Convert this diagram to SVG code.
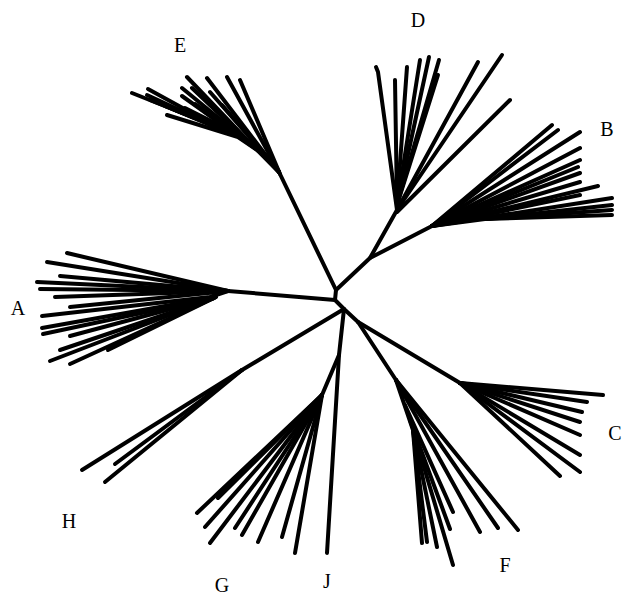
<svg xmlns="http://www.w3.org/2000/svg" width="630" height="597" viewBox="0 0 630 597">
<style>
.b{fill:none;stroke:#000;stroke-width:4;stroke-linecap:round;stroke-linejoin:round}
.l{font-family:"Liberation Serif","Times New Roman",serif;font-size:20px;fill:#000;text-anchor:middle}
</style>
<rect width="630" height="597" fill="#fff"/>
<g id="connectors" class="b">
<polyline points="279,172 336,290 335,300 344,309 358,322"/>
<polyline points="336,290 370,258 397,210"/>
<line x1="370" y1="258" x2="432" y2="226"/>
<line x1="335" y1="300" x2="228" y2="291"/>
<line x1="344" y1="309" x2="242" y2="370"/>
<polyline points="344,309 339,355 322,395"/>
<line x1="358" y1="322" x2="460" y2="383"/>
<line x1="358" y1="322" x2="396" y2="380"/>
</g>
<g id="E" class="b">
<polyline points="132,93 210,124 240,137 262,153 279,172"/>
<polyline points="148,89 210,123"/>
<polyline points="147,95 210,124"/>
<polyline points="150,100 212,125"/>
<polyline points="165,106 215,127"/>
<polyline points="167,115 238,137 260,152 279,172"/>
<polyline points="175,110 240,136"/>
<polyline points="185,108 245,138"/>
<polyline points="195,104 250,142"/>
<polyline points="205,112 252,145"/>
<polyline points="182,88 255,148 279,172"/>
<polyline points="182,96 255,148"/>
<polyline points="187,77 255,148"/>
<polyline points="192,88 255,148"/>
<polyline points="207,78 268,158 279,172"/>
<polyline points="210,92 268,158"/>
<polyline points="222,105 268,158"/>
<line x1="227" y1="77" x2="279" y2="172"/>
<line x1="240" y1="80" x2="280" y2="174"/>
</g>
<g id="D" class="b">
<polyline points="376,67 378,72 397,210"/>
<line x1="395" y1="80" x2="397" y2="205"/>
<line x1="407" y1="67" x2="397" y2="205"/>
<line x1="420" y1="60" x2="397" y2="205"/>
<line x1="429" y1="57" x2="397" y2="205"/>
<line x1="439" y1="60" x2="397" y2="205"/>
<line x1="438" y1="75" x2="397" y2="205"/>
<line x1="478" y1="62" x2="397" y2="210"/>
<line x1="502" y1="55" x2="397" y2="210"/>
<line x1="510" y1="100" x2="397" y2="212"/>
</g>
<g id="B" class="b">
<line x1="552" y1="125" x2="432" y2="226"/>
<line x1="558" y1="130" x2="432" y2="226"/>
<line x1="580" y1="132" x2="432" y2="226"/>
<line x1="580" y1="148" x2="432" y2="226"/>
<line x1="580" y1="160" x2="432" y2="226"/>
<line x1="578" y1="167" x2="432" y2="226"/>
<line x1="580" y1="173" x2="432" y2="226"/>
<line x1="580" y1="182" x2="432" y2="226"/>
<line x1="598" y1="186" x2="432" y2="226"/>
<line x1="580" y1="195" x2="432" y2="226"/>
<line x1="612" y1="198" x2="432" y2="226"/>
<polyline points="612,205 485,219 432,226"/>
<polyline points="612,210 485,219"/>
<polyline points="612,215 485,219"/>
</g>
<g id="A" class="b">
<line x1="67" y1="253" x2="228" y2="291"/>
<line x1="47" y1="262" x2="228" y2="291"/>
<line x1="60" y1="276" x2="228" y2="291"/>
<line x1="37" y1="282" x2="228" y2="291"/>
<line x1="40" y1="289" x2="228" y2="291"/>
<line x1="55" y1="297" x2="228" y2="291"/>
<line x1="70" y1="307" x2="228" y2="291"/>
<polyline points="42,316 210,297 228,291"/>
<polyline points="42,328 210,298"/>
<polyline points="43,334 212,298"/>
<polyline points="70,336 212,298"/>
<polyline points="60,350 214,298"/>
<polyline points="50,361 214,298"/>
<polyline points="70,364 216,297"/>
<polyline points="108,350 216,297"/>
</g>
<g id="H" class="b">
<line x1="82" y1="470" x2="242" y2="370"/>
<line x1="115" y1="464" x2="242" y2="370"/>
<line x1="105" y1="482" x2="242" y2="370"/>
</g>
<g id="G" class="b">
<line x1="197" y1="513" x2="322" y2="395"/>
<line x1="218" y1="498" x2="322" y2="395"/>
<line x1="205" y1="527" x2="322" y2="395"/>
<line x1="210" y1="543" x2="322" y2="395"/>
<line x1="235" y1="528" x2="322" y2="395"/>
<line x1="242" y1="535" x2="322" y2="395"/>
<line x1="258" y1="542" x2="322" y2="395"/>
<line x1="282" y1="537" x2="322" y2="395"/>
<line x1="295" y1="553" x2="322" y2="395"/>
</g>
<g id="J" class="b">
<line x1="339" y1="355" x2="327" y2="553"/>
</g>
<g id="F" class="b">
<polyline points="422,543 413,430 396,380"/>
<line x1="427" y1="542" x2="413" y2="430"/>
<line x1="437" y1="547" x2="413" y2="430"/>
<line x1="453" y1="565" x2="413" y2="430"/>
<line x1="450" y1="529" x2="410" y2="420"/>
<line x1="453" y1="512" x2="405" y2="405"/>
<line x1="480" y1="532" x2="396" y2="380"/>
<line x1="498" y1="528" x2="396" y2="380"/>
<line x1="518" y1="530" x2="396" y2="380"/>
</g>
<g id="C" class="b">
<line x1="603" y1="395" x2="460" y2="383"/>
<line x1="587" y1="402" x2="460" y2="383"/>
<line x1="582" y1="412" x2="460" y2="383"/>
<line x1="580" y1="422" x2="460" y2="383"/>
<line x1="580" y1="435" x2="460" y2="383"/>
<line x1="580" y1="455" x2="460" y2="383"/>
<line x1="580" y1="472" x2="460" y2="383"/>
<line x1="560" y1="476" x2="460" y2="383"/>
</g>
<g id="labels">
<text class="l" x="180" y="52">E</text>
<text class="l" x="418" y="27">D</text>
<text class="l" x="607" y="136">B</text>
<text class="l" x="18" y="315">A</text>
<text class="l" x="615" y="440">C</text>
<text class="l" x="505" y="572">F</text>
<text class="l" x="327" y="588">J</text>
<text class="l" x="222" y="592">G</text>
<text class="l" x="69" y="528">H</text>
</g>
</svg>
